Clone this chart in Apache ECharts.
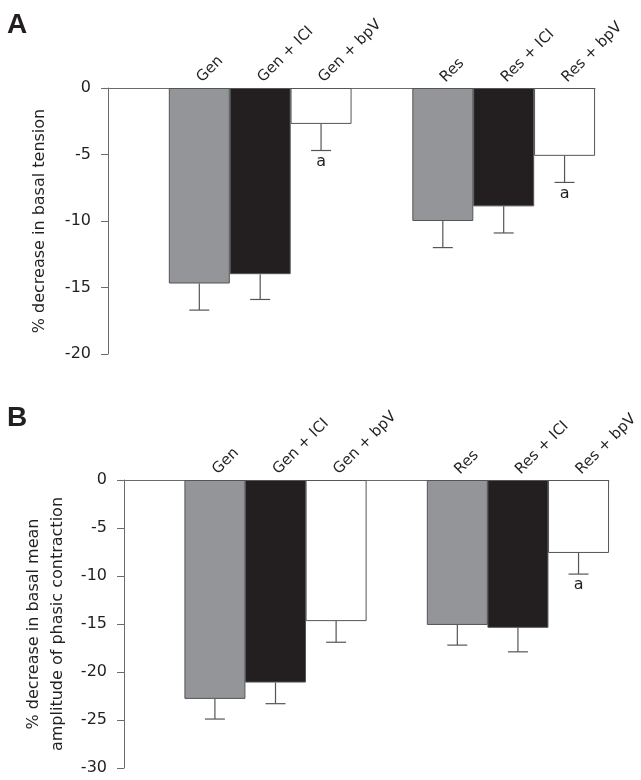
<!DOCTYPE html>
<html>
<head>
<meta charset="utf-8">
<script src="https://cdn.jsdelivr.net/npm/echarts@6/dist/echarts.min.js"></script>
<style>
html,body{margin:0;padding:0;background:#fff;}
#chart{width:641px;height:780px;}
</style>
</head>
<body>
<div id="chart"></div>
<script>
const categories = ['', 'Gen', 'Gen + ICI', 'Gen + bpV', '', 'Res', 'Res + ICI', 'Res + bpV'];
const valuesA = [null, -14.7, -14.0, -2.7, null, -10.0, -8.9, -5.1];
const errorsA = [null, 2.0, 1.9, 2.0, null, 2.0, 2.0, 2.0];
const sigA = ['', '', '', 'a', '', '', '', 'a'];
const valuesB = [null, -22.8, -21.1, -14.7, null, -15.1, -15.4, -7.6];
const errorsB = [null, 2.1, 2.2, 2.2, null, 2.1, 2.5, 2.2];
const sigB = ['', '', '', '', '', '', '', 'a'];
const ticksA = { min: -20, max: 0, interval: 5 };
const ticksB = { min: -30, max: 0, interval: 5 };

const FONT = 'DejaVu Sans';
const TEXT = '#231f20';
const AXIS = '#6b6b6b';
const fills = ['#ffffff', '#939598', '#231f20', '#ffffff', '#ffffff', '#939598', '#231f20', '#ffffff'];

function barData(vals) {
  return vals.map((v, i) => ({
    value: v,
    itemStyle: { color: fills[i], borderColor: '#555555', borderWidth: 1 }
  }));
}
function errData(vals, errs) {
  return vals.map((v, i) => [i, v, errs[i]]);
}
function errRender(sig) {
  return function (params, api) {
    const i = params.dataIndex;
    const v = api.value(1), e = api.value(2);
    if (v == null || isNaN(v)) return null;
    const p0 = api.coord([i, v]);
    const p1 = api.coord([i, v - e]);
    const cap = 10;
    const st = { stroke: '#555555', lineWidth: 1.2 };
    const children = [
      { type: 'line', shape: { x1: p0[0], y1: p0[1], x2: p1[0], y2: p1[1] }, style: st },
      { type: 'line', shape: { x1: p1[0] - cap, y1: p1[1], x2: p1[0] + cap, y2: p1[1] }, style: st }
    ];
    if (sig[i]) {
      children.push({ type: 'text', style: { text: sig[i], x: p1[0], y: p1[1] + 3, align: 'center', verticalAlign: 'top', fill: TEXT, font: '16px "' + FONT + '"' } });
    }
    return { type: 'group', children };
  };
}
function xAxisCfg(gi) {
  return {
    type: 'category', gridIndex: gi, data: categories, position: 'top',
    boundaryGap: true,
    axisLine: { show: true, onZero: false, lineStyle: { color: AXIS, width: 1 } },
    axisTick: { show: false },
    axisLabel: { interval: 0, rotate: -45, margin: 8, color: TEXT, fontFamily: FONT, fontSize: 15 },
    splitLine: { show: false }
  };
}
function yAxisCfg(gi, t, name, gap) {
  return {
    type: 'value', gridIndex: gi, min: t.min, max: t.max, interval: t.interval,
    name: name, nameLocation: 'middle', nameGap: gap,
    nameTextStyle: { color: TEXT, fontFamily: FONT, fontSize: 16, lineHeight: 24 },
    axisLine: { show: true, lineStyle: { color: AXIS, width: 1 } },
    axisTick: { show: true, length: 7, lineStyle: { color: AXIS } },
    axisLabel: { color: TEXT, fontFamily: FONT, fontSize: 16, margin: 17 },
    splitLine: { show: false }
  };
}

const chart = echarts.init(document.getElementById('chart'), null, { renderer: 'canvas' });
chart.setOption({
  animation: false,
  backgroundColor: '#ffffff',
  graphic: [
    { type: 'text', left: 7, top: 11, style: { text: 'A', font: 'bold 28px "Liberation Sans"', fill: TEXT } },
    { type: 'text', left: 7, top: 404, style: { text: 'B', font: 'bold 28px "Liberation Sans"', fill: TEXT } }
  ],
  grid: [
    { left: 108, top: 88, width: 487, height: 266 },
    { left: 124, top: 480, width: 489, height: 288 }
  ],
  xAxis: [xAxisCfg(0), xAxisCfg(1)],
  yAxis: [
    yAxisCfg(0, ticksA, '% decrease in basal tension', 56),
    yAxisCfg(1, ticksB, '% decrease in basal mean\namplitude of phasic contraction', 54)
  ],
  series: [
    { type: 'bar', xAxisIndex: 0, yAxisIndex: 0, data: barData(valuesA), barWidth: 61, barGap: '0%' },
    { type: 'custom', xAxisIndex: 0, yAxisIndex: 0, data: errData(valuesA, errorsA), renderItem: errRender(sigA), z: 5 },
    { type: 'bar', xAxisIndex: 1, yAxisIndex: 1, data: barData(valuesB), barWidth: 61, barGap: '0%' },
    { type: 'custom', xAxisIndex: 1, yAxisIndex: 1, data: errData(valuesB, errorsB), renderItem: errRender(sigB), z: 5 }
  ]
});
</script>
</body>
</html>
